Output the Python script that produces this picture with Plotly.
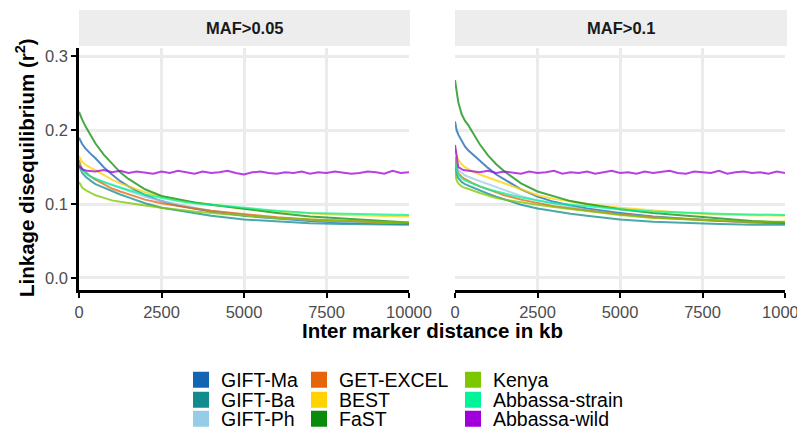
import plotly.graph_objects as go

# ---------------- data ----------------
series_names = ["GIFT-Ma", "GIFT-Ba", "GIFT-Ph", "GET-EXCEL", "BEST", "FaST",
                "Kenya", "Abbassa-strain", "Abbassa-wild"]
series_colors = ["#1464B4", "#108C8C", "#96CDE6", "#E6640A", "#FFD200", "#0A8C0A",
                 "#7CC800", "#00F59B", "#A000DC"]
panel_labels = ["MAF>0.05", "MAF>0.1"]

distance_kb = [0, 50, 100, 200, 300, 400, 500, 750, 1000, 1250, 1500, 2000, 2500,
               3000, 3500, 4000, 5000, 6000, 7000, 8000, 9000, 10000]

# MAF > 0.05
maf005_gift_ma = [.190, .185, .181, .175, .170, .166, .162, .150, .140, .131, .124, .112, .104,
                  .098, .094, .090, .084, .080, .077, .075, .074, .073]
maf005_gift_ba = [.152, .146, .142, .137, .133, .130, .127, .122, .118, .113, .109, .101, .095,
                  .091, .087, .084, .079, .076, .074, .073, .072, .072]
maf005_gift_ph = [.153, .148, .145, .141, .138, .136, .134, .130, .127, .122, .118, .110, .104,
                  .099, .095, .091, .085, .081, .078, .076, .075, .074]
maf005_get_excel = [.160, .152, .148, .143, .139, .136, .133, .127, .121, .117, .113, .106, .101,
                    .097, .094, .091, .086, .082, .079, .077, .075, .074]
maf005_best = [.165, .160, .157, .153, .150, .148, .146, .139, .133, .128, .124, .116, .110,
               .105, .102, .099, .094, .090, .087, .085, .084, .083]
maf005_fast = [.225, .219, .214, .205, .197, .189, .182, .167, .155, .143, .134, .120, .111,
               .106, .102, .099, .093, .088, .083, .080, .077, .075]
maf005_kenya = [.130, .125, .122, .119, .116, .114, .112, .108, .105, .103, .101, .098, .095,
                .092, .090, .088, .084, .081, .079, .077, .076, .075]
maf005_abb_strain = [.156, .149, .146, .142, .139, .136, .134, .130, .126, .122, .119, .113, .108,
                     .104, .101, .099, .094, .091, .088, .087, .086, .085]

# MAF > 0.1
maf01_gift_ma = [.212, .200, .194, .185, .178, .173, .169, .158, .149, .140, .133, .120, .110,
                 .103, .098, .094, .088, .083, .080, .077, .075, .074]
maf01_gift_ba = [.153, .140, .135, .130, .127, .125, .123, .118, .114, .110, .106, .099, .094,
                 .090, .087, .084, .079, .076, .074, .073, .072, .072]
maf01_gift_ph = [.160, .150, .146, .142, .139, .137, .135, .131, .127, .123, .119, .111, .105,
                 .100, .096, .092, .086, .082, .079, .077, .076, .075]
maf01_get_excel = [.164, .148, .142, .137, .134, .131, .129, .124, .120, .116, .112, .106, .101,
                   .097, .094, .091, .086, .082, .079, .077, .076, .075]
maf01_best = [.178, .165, .160, .154, .150, .147, .145, .140, .136, .131, .127, .119, .112,
              .107, .103, .100, .095, .091, .088, .086, .085, .084]
maf01_fast = [.268, .250, .238, .222, .213, .207, .200, .181, .166, .154, .144, .128, .117,
              .110, .104, .100, .093, .088, .084, .080, .077, .075]
maf01_kenya = [.142, .132, .128, .124, .122, .120, .119, .115, .111, .108, .106, .102, .099,
               .096, .093, .091, .085, .081, .079, .077, .076, .076]
maf01_abb_strain = [.162, .146, .140, .135, .132, .130, .128, .124, .120, .117, .114, .109, .105,
                    .101, .099, .097, .093, .090, .088, .087, .086, .085]

# Abbassa-wild is flat and noisy: read at a finer spacing
wild_kb = [0, 100] + list(range(250, 10001, 250))
maf005_abb_wild = [.152, .147, .145, .144, .146, .143, .145, .142, .144, .143,
                   .141, .144, .142, .145, .143, .141, .144, .142, .143, .145,
                   .142, .140, .143, .144, .142, .141, .143, .142, .144, .141,
                   .143, .142, .144, .143, .141, .142, .144, .143, .141, .145,
                   .142, .143]
maf01_abb_wild = [.180, .150, .146, .144, .143, .145, .142, .144, .143, .141,
                  .144, .142, .143, .145, .141, .143, .142, .144, .141, .143,
                  .145, .142, .143, .141, .144, .142, .143, .145, .142, .141,
                  .144, .143, .142, .145, .141, .143, .144, .142, .143, .141,
                  .144, .142]

panel_data = [
    [maf005_gift_ma, maf005_gift_ba, maf005_gift_ph, maf005_get_excel, maf005_best,
     maf005_fast, maf005_kenya, maf005_abb_strain, maf005_abb_wild],
    [maf01_gift_ma, maf01_gift_ba, maf01_gift_ph, maf01_get_excel, maf01_best,
     maf01_fast, maf01_kenya, maf01_abb_strain, maf01_abb_wild],
]

x_ticks = [0, 2500, 5000, 7500, 10000]
y_ticks = [0.0, 0.1, 0.2, 0.3]

# ---------------- figure ----------------
# page body has an 8px margin; positions below are given in window pixels
OFF = 8
W, H = 805 - 2 * OFF, 438 - 2 * OFF
PL, PR, PT, PB = 79, 785, 48, 290          # plot area in window pixels
ML, MR, MT, MB = PL - OFF, W - (PR - OFF), PT - OFF, H - (PB - OFF)
pw = W - ML - MR
ph = H - MT - MB

def px_x(px):
    return (px - OFF - ML) / pw

def px_y(py):
    return (H - MB - (py - OFF)) / ph

FONT = "Liberation Sans, Arial, sans-serif"

fig = go.Figure()
for p, series in enumerate(panel_data):
    xa = "x" if p == 0 else "x2"
    ya = "y" if p == 0 else "y2"
    for name, color, vals in zip(series_names, series_colors, series):
        xs = wild_kb if name == "Abbassa-wild" else distance_kb
        fig.add_trace(go.Scatter(x=xs, y=vals, mode="lines", xaxis=xa, yaxis=ya,
                                 line=dict(color=color, width=2), opacity=0.75,
                                 showlegend=False, hoverinfo="skip"))

# legend keys (3 columns x 3 rows, filled squares)
col_left_px = [195, 313, 467]
row_center_px = [380, 400, 419]
for i, (name, color) in enumerate(zip(series_names, series_colors)):
    c, r = i // 3, i % 3
    lg = "legend" if i == 0 else f"legend{i+1}"
    fig.add_trace(go.Scatter(x=[None], y=[None], mode="markers", name=name,
                             marker=dict(symbol="square", size=16, color=color),
                             legend=lg, showlegend=True))
    fig.update_layout(**{lg: dict(
        x=px_x(col_left_px[c] + 8 - 22), y=px_y(row_center_px[r]),
        xanchor="left", yanchor="middle", orientation="v",
        bgcolor="rgba(0,0,0,0)", borderwidth=0,
        font=dict(family=FONT, size=19.5, color="#000000"),
        itemsizing="trace")})

axis_common = dict(range=[0, 10000], tickvals=x_ticks, ticktext=[str(t) for t in x_ticks],
                   showgrid=True, gridcolor="#EBEBEB", gridwidth=2.5, zeroline=False,
                   showline=True, linecolor="#000000", linewidth=2.5, automargin=False,
                   ticks="outside", ticklen=5, tickwidth=2, tickcolor="#000000",
                   ticklabeloverflow="allow",
                   tickfont=dict(family=FONT, size=16.5, color="#4D4D4D"))
d1 = px_x(409)
d2 = px_x(455)
fig.update_layout(
    width=W, height=H, margin=dict(l=ML, r=MR, t=MT, b=MB, autoexpand=False),
    paper_bgcolor="white", plot_bgcolor="white",
    xaxis=dict(domain=[0, d1], anchor="y", **axis_common),
    xaxis2=dict(domain=[d2, 1], anchor="y2", **axis_common),
    yaxis=dict(domain=[0, 1], anchor="x", range=[-0.0165, 0.3115], tickvals=y_ticks,
               tickformat=".1f", showgrid=True, gridcolor="#EBEBEB", gridwidth=2.5,
               zeroline=False, showline=True, linecolor="#000000", linewidth=2.5,
               automargin=False,
               ticks="outside", ticklen=5, tickwidth=2, tickcolor="#000000",
               tickfont=dict(family=FONT, size=16.5, color="#4D4D4D")),
    yaxis2=dict(domain=[0, 1], anchor="x2", matches="y", range=[-0.0165, 0.3115],
                tickvals=y_ticks, showticklabels=False, showgrid=True, gridcolor="#EBEBEB",
                gridwidth=2.5, zeroline=False, showline=False, ticks="", automargin=False),
)

# facet strips
strip_px = [(79, 410), (455, 787)]
for (x0, x1), label in zip(strip_px, panel_labels):
    fig.add_shape(type="rect", xref="paper", yref="paper",
                  x0=px_x(x0), x1=px_x(x1), y0=px_y(46), y1=px_y(10),
                  fillcolor="#EDEDED", line=dict(width=0), layer="below")
    fig.add_annotation(xref="paper", yref="paper", x=px_x((x0 + x1) / 2), y=px_y(28),
                       text=f"<b>{label}</b>", showarrow=False, xanchor="center",
                       yanchor="middle", font=dict(family=FONT, size=16.5, color="#1A1A1A"))

# axis titles
fig.add_annotation(xref="paper", yref="paper", x=px_x(432), y=px_y(330),
                   text="<b>Inter marker distance in kb</b>", showarrow=False,
                   xanchor="center", yanchor="middle",
                   font=dict(family=FONT, size=20.5, color="#000000"))
fig.add_annotation(xref="paper", yref="paper", x=px_x(25), y=px_y(168),
                   text="<b>Linkage disequilibrium (r<sup>2</sup>)</b>", showarrow=False,
                   textangle=-90, xanchor="center", yanchor="middle",
                   font=dict(family=FONT, size=20.5, color="#000000"))

fig.write_html("out.html")
